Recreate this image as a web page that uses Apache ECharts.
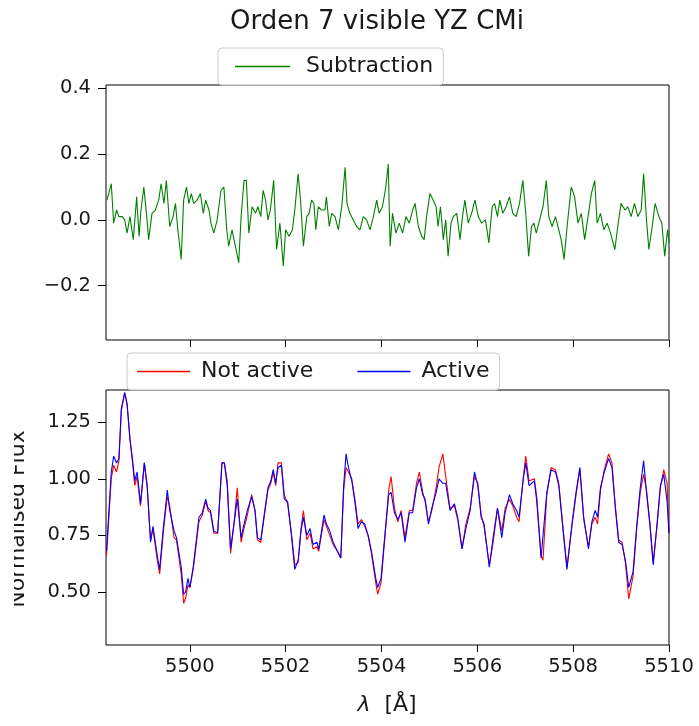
<!DOCTYPE html>
<html>
<head>
<meta charset="utf-8">
<script src="https://cdn.jsdelivr.net/npm/echarts@6/dist/echarts.min.js"></script>
<style>html,body{margin:0;padding:0;background:#fff}#c{width:699px;height:726px}</style>
</head>
<body>
<div id="c"></div>
<script>
// ---- data ----
const wavelength = [5498.26,5498.36,5498.41,5498.47,5498.52,5498.57,5498.64,5498.69,5498.75,5498.80,
5498.85,5498.90,5498.97,5499.05,5499.11,5499.18,5499.23,5499.32,5499.37,5499.44,
5499.49,5499.53,5499.58,5499.67,5499.72,5499.82,5499.87,5499.91,5499.96,5500.00,
5500.07,5500.19,5500.26,5500.33,5500.38,5500.43,5500.50,5500.58,5500.67,5500.72,
5500.78,5500.85,5500.92,5500.99,5501.07,5501.13,5501.20,5501.29,5501.36,5501.41,
5501.48,5501.57,5501.63,5501.69,5501.74,5501.79,5501.84,5501.91,5501.97,5502.04,
5502.12,5502.19,5502.26,5502.32,5502.37,5502.44,5502.51,5502.57,5502.65,5502.69,
5502.80,5502.85,5502.92,5502.99,5503.08,5503.15,5503.21,5503.26,5503.31,5503.38,
5503.45,5503.51,5503.58,5503.65,5503.72,5503.79,5503.88,5503.92,5503.99,5504.07,
5504.15,5504.20,5504.27,5504.34,5504.41,5504.49,5504.58,5504.65,5504.73,5504.79,
5504.86,5504.91,5504.98,5505.05,5505.14,5505.20,5505.28,5505.34,5505.43,5505.52,
5505.59,5505.68,5505.76,5505.85,5505.94,5506.01,5506.08,5506.14,5506.25,5506.33,
5506.42,5506.51,5506.58,5506.67,5506.74,5506.82,5506.87,5506.96,5507.01,5507.08,
5507.19,5507.24,5507.33,5507.37,5507.45,5507.54,5507.63,5507.70,5507.79,5507.87,
5507.98,5508.06,5508.14,5508.22,5508.32,5508.39,5508.46,5508.51,5508.57,5508.65,
5508.74,5508.81,5508.88,5508.95,5509.02,5509.09,5509.16,5509.25,5509.33,5509.40,
5509.47,5509.53,5509.60,5509.67,5509.75,5509.82,5509.89,5509.96,5510.00];

const notActive = [0.66,1.00,1.06,1.03,1.08,1.30,1.38,1.33,1.18,1.08,
0.97,1.01,0.88,1.07,0.96,0.73,0.78,0.64,0.58,0.75,
0.85,0.92,0.88,0.74,0.73,0.58,0.45,0.47,0.53,0.52,
0.60,0.81,0.84,0.90,0.86,0.85,0.76,0.76,1.07,1.07,
0.99,0.67,0.80,0.96,0.72,0.78,0.84,0.93,0.86,0.73,
0.72,0.86,0.95,0.98,1.03,0.97,1.07,1.07,0.93,0.89,
0.76,0.62,0.63,0.78,0.86,0.73,0.76,0.69,0.70,0.68,
0.82,0.79,0.75,0.71,0.68,0.65,0.95,1.05,1.03,1.00,
0.90,0.80,0.82,0.79,0.75,0.67,0.54,0.49,0.54,0.74,
0.95,1.01,0.87,0.81,0.86,0.74,0.86,0.86,0.98,1.03,
0.94,0.90,0.81,0.86,0.96,1.05,1.11,1.01,0.87,0.88,
0.82,0.69,0.80,0.87,1.01,0.98,0.84,0.79,0.62,0.72,
0.87,0.77,0.87,0.91,0.88,0.83,0.81,1.01,1.10,0.99,
1.00,0.92,0.66,0.64,0.93,1.05,1.04,0.98,0.78,0.61,
0.80,0.93,1.04,0.82,0.70,0.80,0.83,0.80,0.95,1.04,
1.11,1.07,0.88,0.73,0.72,0.63,0.47,0.57,0.79,0.94,
1.02,0.95,0.81,0.63,0.79,0.96,1.04,0.98,0.76];

const active = [0.68,1.03,1.10,1.07,1.09,1.31,1.38,1.33,1.17,1.09,
0.99,1.03,0.89,1.07,0.97,0.72,0.79,0.66,0.60,0.77,
0.87,0.95,0.86,0.77,0.74,0.61,0.49,0.50,0.56,0.52,
0.61,0.83,0.85,0.91,0.87,0.86,0.77,0.76,1.07,1.07,
0.97,0.69,0.80,0.91,0.74,0.80,0.86,0.92,0.86,0.74,
0.73,0.87,0.96,0.99,1.04,0.98,1.05,1.06,0.91,0.90,
0.75,0.60,0.64,0.77,0.83,0.75,0.78,0.71,0.72,0.69,
0.84,0.80,0.77,0.72,0.68,0.65,0.97,1.11,1.05,0.99,
0.89,0.78,0.81,0.80,0.75,0.68,0.56,0.52,0.56,0.75,
0.93,0.94,0.85,0.82,0.85,0.72,0.85,0.85,0.96,1.00,
0.93,0.91,0.80,0.87,0.94,1.00,0.98,0.98,0.86,0.89,
0.83,0.69,0.78,0.86,1.03,0.97,0.83,0.80,0.61,0.74,
0.87,0.74,0.85,0.93,0.89,0.86,0.83,1.00,1.07,0.97,
0.99,0.90,0.65,0.65,0.94,1.04,1.03,0.97,0.77,0.60,
0.81,0.94,1.05,0.83,0.69,0.81,0.86,0.83,0.96,1.03,
1.09,1.05,0.87,0.72,0.71,0.64,0.52,0.59,0.80,0.96,
1.08,0.94,0.80,0.62,0.80,0.97,1.02,0.90,0.76];

const subWavelength = [5498.27,5498.36,5498.41,5498.47,5498.52,5498.59,5498.64,5498.69,5498.75,5498.82,
5498.89,5498.94,5498.98,5499.04,5499.10,5499.14,5499.21,5499.28,5499.35,5499.40,
5499.46,5499.51,5499.58,5499.65,5499.70,5499.75,5499.82,5499.87,5499.93,5499.98,
5500.03,5500.08,5500.15,5500.22,5500.28,5500.33,5500.40,5500.44,5500.50,5500.57,
5500.65,5500.71,5500.77,5500.81,5500.88,5500.95,5501.02,5501.07,5501.13,5501.18,
5501.23,5501.30,5501.37,5501.42,5501.48,5501.53,5501.58,5501.63,5501.68,5501.75,
5501.81,5501.88,5501.95,5502.00,5502.07,5502.14,5502.19,5502.26,5502.31,5502.37,
5502.44,5502.49,5502.54,5502.59,5502.63,5502.68,5502.75,5502.82,5502.85,5502.91,
5502.96,5503.03,5503.10,5503.17,5503.24,5503.28,5503.34,5503.41,5503.48,5503.55,
5503.62,5503.69,5503.76,5503.83,5503.90,5503.95,5504.02,5504.09,5504.14,5504.18,
5504.23,5504.30,5504.37,5504.44,5504.51,5504.58,5504.65,5504.70,5504.77,5504.84,
5504.89,5504.94,5505.01,5505.08,5505.14,5505.18,5505.23,5505.29,5505.34,5505.39,
5505.45,5505.50,5505.57,5505.64,5505.69,5505.74,5505.81,5505.88,5505.95,5506.02,
5506.09,5506.17,5506.24,5506.31,5506.36,5506.42,5506.47,5506.53,5506.60,5506.67,
5506.74,5506.81,5506.88,5506.95,5507.01,5507.07,5507.13,5507.18,5507.23,5507.30,
5507.37,5507.44,5507.49,5507.56,5507.63,5507.70,5507.75,5507.81,5507.88,5507.96,
5508.03,5508.10,5508.17,5508.24,5508.31,5508.38,5508.45,5508.50,5508.57,5508.64,
5508.71,5508.78,5508.87,5508.94,5509.00,5509.08,5509.14,5509.21,5509.28,5509.35,
5509.42,5509.47,5509.53,5509.58,5509.65,5509.71,5509.79,5509.85,5509.91,5509.97,
5510.00];

const subtraction = [0.06,0.11,-0.01,0.03,0.01,0.01,0.00,-0.04,0.01,-0.06,
0.07,-0.05,0.03,0.10,0.01,-0.06,0.02,0.03,0.06,0.11,
0.05,0.12,-0.02,0.01,0.05,-0.03,-0.12,0.06,0.10,0.05,
0.08,0.05,0.06,0.08,0.02,0.06,0.03,-0.01,-0.04,0.00,
0.09,0.10,-0.03,-0.08,-0.03,-0.08,-0.13,0.01,0.12,0.12,
-0.04,0.04,0.02,0.04,0.01,0.09,0.06,0.00,0.03,0.12,
-0.09,-0.01,-0.14,-0.03,-0.05,-0.03,0.03,0.14,0.06,-0.08,
0.01,0.02,0.06,0.05,-0.03,0.04,0.03,0.03,0.07,-0.02,
0.02,0.01,-0.03,0.04,0.16,0.05,0.02,0.00,-0.02,-0.03,
0.01,0.00,-0.03,0.01,0.06,0.02,0.04,0.10,0.17,-0.08,
0.02,-0.04,-0.01,-0.04,0.01,-0.01,0.03,0.05,-0.02,-0.05,
-0.06,0.01,0.08,0.06,0.04,-0.02,0.04,-0.06,0.00,-0.11,
-0.01,0.01,0.02,-0.06,0.01,0.06,-0.01,0.02,0.06,0.01,
-0.01,0.00,-0.07,0.04,0.05,0.01,0.06,0.02,0.04,0.07,
0.02,0.01,0.05,0.12,0.02,-0.11,-0.02,-0.01,-0.04,0.00,
0.04,0.12,0.01,-0.02,0.01,-0.03,-0.06,-0.12,-0.01,0.10,
0.07,-0.01,0.02,-0.06,0.01,0.08,0.12,-0.01,0.02,-0.03,
-0.01,-0.04,-0.09,-0.01,0.05,0.03,0.04,0.01,0.05,0.01,
0.03,0.14,0.00,-0.09,-0.02,0.05,0.01,-0.01,-0.11,-0.03,
-0.07];

const xTicks = [5500, 5502, 5504, 5506, 5508, 5510];
const subTicks = [-0.2, 0.0, 0.2, 0.4];
const fluxTicks = [0.50, 0.75, 1.00, 1.25];

const titleText = 'Orden 7 visible YZ CMi';
const yLabelText = 'Normalised Flux';

// ---- chart ----
const FONT = 'DejaVu Sans';
const chart = echarts.init(document.getElementById('c'), null, {renderer: 'canvas'});
const pair = (xs, ys) => xs.map((x, i) => [x, ys[i]]);
const minusFmt = (d) => (v) => (v < 0 ? '\u2212' : '') + Math.abs(v).toFixed(d);
const tickLabel = {fontFamily: FONT, fontSize: 19.5, color: '#1a1a1a'};

const xAxisBase = {
  type: 'value', min: 5498.25, max: 5510,
  axisLine: {show: false, onZero: false}, splitLine: {show: false},
  axisTick: {show: true, length: 7, lineStyle: {color: '#000', width: 1}, customValues: xTicks}
};
const yAxisBase = {
  type: 'value', axisLine: {show: false, onZero: false}, splitLine: {show: false}
};

chart.setOption({
  animation: false,
  backgroundColor: '#fff',
  grid: [
    {left: 106, right: 30, top: 85, height: 255, show: true, borderColor: '#000', borderWidth: 1, backgroundColor: 'transparent'},
    {left: 106, right: 30, top: 390, height: 255, show: true, borderColor: '#000', borderWidth: 1, backgroundColor: 'transparent'}
  ],
  xAxis: [
    Object.assign({gridIndex: 0, axisLabel: {show: false, customValues: xTicks}}, xAxisBase),
    Object.assign({gridIndex: 1, axisLabel: Object.assign({show: true, margin: 12, customValues: xTicks, formatter: (v) => String(Math.round(v))}, tickLabel)}, xAxisBase)
  ],
  yAxis: [
    Object.assign({gridIndex: 0, min: -0.365, max: 0.41,
     axisTick: {show: true, length: 8, lineStyle: {color: '#000'}, customValues: subTicks},
     axisLabel: Object.assign({margin: 15, customValues: subTicks, formatter: minusFmt(1)}, tickLabel)}, yAxisBase),
    Object.assign({gridIndex: 1, min: 0.266, max: 1.392,
     axisTick: {show: true, length: 8, lineStyle: {color: '#000'}, customValues: fluxTicks},
     axisLabel: Object.assign({margin: 15, customValues: fluxTicks, formatter: minusFmt(2)}, tickLabel)}, yAxisBase)
  ],
  legend: [
    {data: ['Subtraction'], left: 218, top: 48, orient: 'horizontal',
     icon: 'rect', itemWidth: 55, itemHeight: 1.6,
     padding: [6, 10, 6, 17], borderColor: '#cccccc', borderWidth: 1, borderRadius: 4,
     backgroundColor: 'rgba(255,255,255,0.85)',
     textStyle: {fontFamily: FONT, fontSize: 22, lineHeight: 25, color: '#1a1a1a', padding: [0, 0, 0, 11]}},
    {data: ['Not active', 'Active'], left: 127, top: 353, orient: 'horizontal',
     icon: 'rect', itemWidth: 53, itemHeight: 1.6, itemGap: 44,
     padding: [6, 10, 6, 10], borderColor: '#cccccc', borderWidth: 1, borderRadius: 4,
     backgroundColor: 'rgba(255,255,255,0.85)',
     textStyle: {fontFamily: FONT, fontSize: 22, lineHeight: 25, color: '#1a1a1a', padding: [0, 0, 0, 6]}}
  ],
  series: [
    {name: 'Subtraction', type: 'line', xAxisIndex: 0, yAxisIndex: 0, data: pair(subWavelength, subtraction),
     symbol: 'none', color: '#008000', itemStyle: {color: '#008000'}, lineStyle: {width: 1.1, color: '#008000'}},
    {name: 'Not active', type: 'line', xAxisIndex: 1, yAxisIndex: 1, data: pair(wavelength, notActive),
     symbol: 'none', color: '#ff0000', itemStyle: {color: '#ff0000'}, lineStyle: {width: 1.1, color: '#ff0000'}},
    {name: 'Active', type: 'line', xAxisIndex: 1, yAxisIndex: 1, data: pair(wavelength, active),
     symbol: 'none', color: '#0000ff', itemStyle: {color: '#0000ff'}, lineStyle: {width: 1.1, color: '#0000ff'}}
  ],
  graphic: [
    {type: 'text', x: 377, y: 22,
     style: {text: titleText, x: 0, y: 0, align: 'center', verticalAlign: 'middle', fontFamily: FONT, fontSize: 26, fill: '#1a1a1a'}},
    {type: 'text', x: 387, y: 705, style: {text: '{i|\u03bb}  [\u00c5]', x: 0, y: 0, align: 'center', verticalAlign: 'middle',
      fontFamily: FONT, fontSize: 22, fill: '#1a1a1a',
      rich: {i: {fontFamily: FONT, fontStyle: 'italic', fontSize: 22, fill: '#1a1a1a'}}}},
    {type: 'text', x: 18.5, y: 519, rotation: Math.PI / 2,
     style: {text: yLabelText, x: 0, y: 0, align: 'center', verticalAlign: 'middle', fontFamily: FONT, fontSize: 22, fill: '#1a1a1a'}},
    {type: 'rect', shape: {x: 0, y: 400, width: 14, height: 240}, style: {fill: '#fff'}, z: 100}
  ]
});
</script>
</body>
</html>
